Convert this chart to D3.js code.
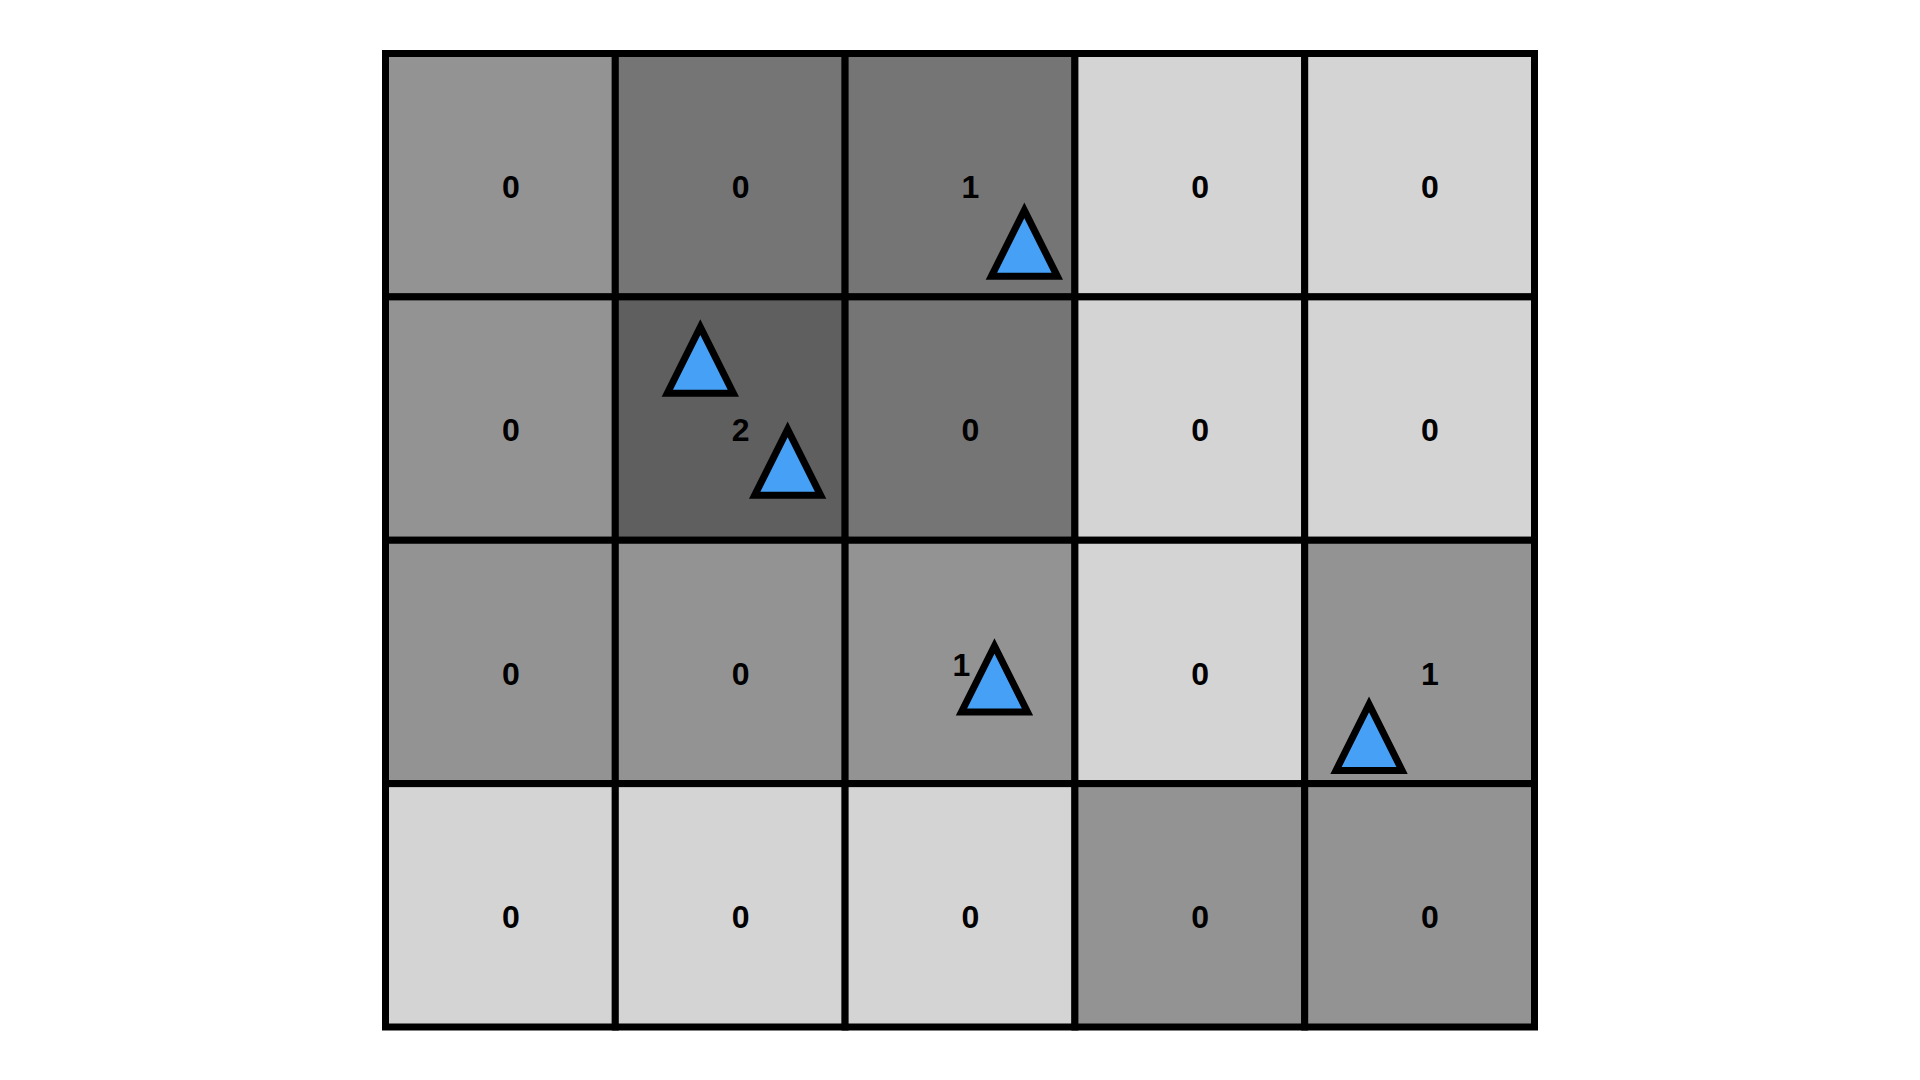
<!DOCTYPE html>
<html>
<head>
<meta charset="utf-8">
<script src="https://cdn.jsdelivr.net/npm/d3@7"></script>
<style>
  html, body { margin: 0; padding: 0; background: #ffffff; }
  svg { display: block; }
</style>
</head>
<body>
<svg id="chart" width="1920" height="1080"></svg>
<script>
// ---- data ----
const columns = [0, 1, 2, 3, 4];
const rows = [0, 1, 2, 3];
// shade level per cell (row-major): 0 light, 1 mid, 2 dark, 3 darkest
const shadeRow0 = [1, 2, 2, 0, 0];
const shadeRow1 = [1, 3, 2, 0, 0];
const shadeRow2 = [1, 1, 1, 0, 1];
const shadeRow3 = [0, 0, 0, 1, 1];
const shadeLevels = [0, 1, 2, 3];
const shadeColors = ["#d4d4d4", "#939393", "#757575", "#5f5f5f"];
// agent (triangle) positions in grid units
const agentX = [2.78, 1.37, 1.75, 2.65, 4.28];
const agentY = [0.78, 1.26, 1.68, 2.57, 2.81];

// ---- layout ----
const svg = d3.select("#chart");
const x = d3.scaleLinear().domain([0, columns.length]).range([385.5, 1534.5]);
const y = d3.scaleLinear().domain([0, rows.length]).range([53.5, 1027]);
const color = d3.scaleOrdinal().domain(shadeLevels).range(shadeColors);

const shade = [shadeRow0, shadeRow1, shadeRow2, shadeRow3];
const cells = [];
rows.forEach(r => columns.forEach(c => {
  const count = agentX.filter((ax, i) => Math.floor(ax) === c && Math.floor(agentY[i]) === r).length;
  cells.push({ r, c, shade: shade[r][c], count });
}));

const g = svg.append("g");

g.selectAll("rect.cell")
  .data(cells)
  .join("rect")
  .attr("class", "cell")
  .attr("x", d => x(d.c))
  .attr("y", d => y(d.r))
  .attr("width", d => x(d.c + 1) - x(d.c))
  .attr("height", d => y(d.r + 1) - y(d.r))
  .attr("fill", d => color(d.shade))
  .attr("stroke", "#000")
  .attr("stroke-width", 7);

const triSize = 66;
const agents = agentX.map((ax, i) => ({ x: ax, y: agentY[i] }));
const triBoxes = agents.map(d => {
  const cx = x(d.x), cy = y(d.y), h = triSize / 2 + 4;
  return { x0: cx - h, x1: cx + h, y0: cy - h - 4, y1: cy + h };
});

const labels = g.selectAll("text.count")
  .data(cells)
  .join("text")
  .attr("class", "count")
  .attr("x", d => (x(d.c) + x(d.c + 1)) / 2 + 1.5)
  .attr("y", d => (y(d.r) + y(d.r + 1)) / 2)
  .attr("dy", "0.71em")
  .attr("text-anchor", "start")
  .attr("font-family", "'Liberation Sans', Arial, Helvetica, sans-serif")
  .attr("font-weight", "bold")
  .attr("font-size", 32)
  .attr("fill", "#000")
  .text(d => d.count);

// nudge labels that collide with a triangle
labels.each(function () {
  const b = this.getBBox();
  const hit = triBoxes.some(t => b.x < t.x1 && b.x + b.width > t.x0 && b.y < t.y1 && b.y + b.height > t.y0);
  if (hit) {
    const sel = d3.select(this);
    sel.attr("x", +sel.attr("x") - 9).attr("y", +sel.attr("y") - 9);
  }
});

g.selectAll("path.agent")
  .data(agents)
  .join("path")
  .attr("class", "agent")
  .attr("d", d => {
    const cx = x(d.x), cy = y(d.y), h = triSize / 2;
    return d3.line()([[cx, cy - h], [cx + h, cy + h], [cx - h, cy + h]]) + "Z";
  })
  .attr("fill", "#46a0f5")
  .attr("stroke", "#000")
  .attr("stroke-width", 7)
  .attr("stroke-linejoin", "miter")
  .attr("stroke-miterlimit", 10);
</script>
</body>
</html>
